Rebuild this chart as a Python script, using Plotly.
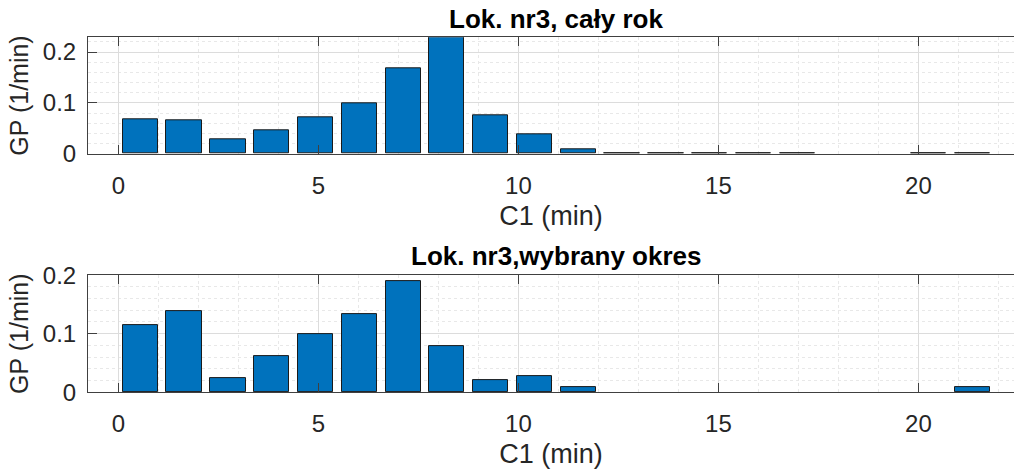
import plotly.graph_objects as go

# ---- data ----
bin_centers = [0.55, 1.64, 2.74, 3.83, 4.93, 6.02, 7.12, 8.21, 9.31, 10.40,
               11.50, 12.59, 13.69, 14.78, 15.88, 16.97, 18.07, 19.16, 20.26, 21.35]
gp_full_year = [0.068, 0.066, 0.028, 0.047, 0.072, 0.099, 0.168, 0.229, 0.075, 0.038,
                0.009, 0.001, 0.0005, 0.0005, 0.001, 0.0015, 0.0, 0.0, 0.001, 0.0005]
gp_selected = [0.115, 0.139, 0.024, 0.061, 0.099, 0.134, 0.190, 0.079, 0.021, 0.028,
               0.009, 0.0, 0.0, 0.0, 0.0, 0.0, 0.0, 0.0, 0.0, 0.009]
title_top = "Lok. nr3, cały rok"
title_bottom = "Lok. nr3,wybrany okres"
x_title = "C1 (min)"
y_title = "GP (1/min)"
x_ticks = [0, 5, 10, 15, 20]

W, H = 1014, 470
FONT = "Liberation Sans, Arial, Helvetica, sans-serif"
BAR_COLOR = "#0072BD"
AX_COLOR = "#404040"
TXT = "#262626"


def edge_widths(vals):
    # empty bins get no outline (as in the reference)
    return [1 if v > 0 else 0 for v in vals]


fig = go.Figure()
fig.add_trace(go.Bar(x=bin_centers, y=gp_full_year, width=0.876,
                     marker=dict(color=BAR_COLOR,
                                 line=dict(color="#1a1a1a", width=edge_widths(gp_full_year))),
                     xaxis="x", yaxis="y", showlegend=False))
fig.add_trace(go.Bar(x=bin_centers, y=gp_selected, width=0.876,
                     marker=dict(color=BAR_COLOR,
                                 line=dict(color="#1a1a1a", width=edge_widths(gp_selected))),
                     xaxis="x2", yaxis="y2", showlegend=False))

x_left_px = 88
xdom = [x_left_px / W, 1.0]


def px_to_paper(y):
    return (H - y) / H


def xaxis_cfg(anchor):
    return dict(
        domain=xdom, anchor=anchor, range=[-0.76, 22.39],
        tickmode="array", tickvals=x_ticks, ticktext=[str(t) for t in x_ticks],
        ticks="inside", ticklen=9, tickcolor=AX_COLOR, tickwidth=1,
        showline=True, linecolor=AX_COLOR, linewidth=1, mirror="ticks",
        showgrid=True, gridcolor="#dcdcdc", gridwidth=1,
        minor=dict(dtick=1, tick0=0, showgrid=True, gridcolor="#e8e8e8", griddash="dot", ticks=""),
        zeroline=False,
        tickfont=dict(family=FONT, size=24, color=TXT),
        ticklabelstandoff=10,
        title=dict(text=x_title, font=dict(family=FONT, size=27, color=TXT), standoff=8),
        automargin=False,
    )


def yaxis_cfg(anchor, dom, rng):
    return dict(
        domain=dom, anchor=anchor, range=rng,
        tickmode="linear", tick0=0, dtick=0.1,
        ticks="inside", ticklen=9, tickcolor=AX_COLOR, tickwidth=1,
        showline=True, linecolor=AX_COLOR, linewidth=1, mirror=False,
        showgrid=True, gridcolor="#dcdcdc", gridwidth=1,
        minor=dict(dtick=0.02, tick0=0, showgrid=True, gridcolor="#e8e8e8", griddash="dot", ticks=""),
        zeroline=False,
        tickfont=dict(family=FONT, size=24, color=TXT),
        ticklabelstandoff=6,
        title=dict(text=y_title, font=dict(family=FONT, size=25, color=TXT), standoff=7),
        automargin=False,
    )


fig.update_layout(
    width=W, height=H,
    margin=dict(l=0, r=0, t=0, b=0),
    paper_bgcolor="white", plot_bgcolor="white",
    bargap=0,
    xaxis=xaxis_cfg("y"),
    yaxis=yaxis_cfg("x", [px_to_paper(153.7), px_to_paper(37.3)], [0, 0.229]),
    xaxis2=xaxis_cfg("y2"),
    yaxis2=yaxis_cfg("x2", [px_to_paper(392.3), px_to_paper(275.1)], [0, 0.2]),
    annotations=[
        dict(text="<b>%s</b>" % title_top, x=556 / W, y=px_to_paper(19), xref="paper", yref="paper",
             xanchor="center", yanchor="middle", showarrow=False,
             font=dict(family=FONT, size=26, color="#000000")),
        dict(text="<b>%s</b>" % title_bottom, x=556 / W, y=px_to_paper(256), xref="paper", yref="paper",
             xanchor="center", yanchor="middle", showarrow=False,
             font=dict(family=FONT, size=26, color="#000000")),
    ],
)

fig.write_html("out.html")
